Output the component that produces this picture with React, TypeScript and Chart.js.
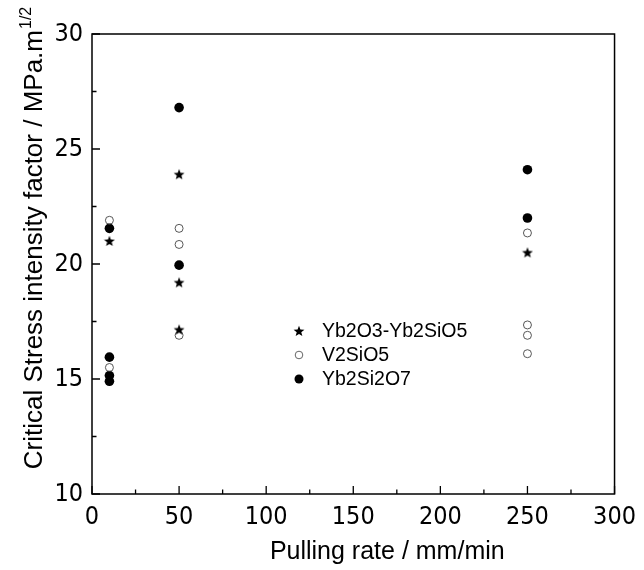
import React, { useEffect, useRef } from 'react';
import { Chart, registerables } from 'chart.js';

Chart.register(...registerables);

// Pulling rate (mm/min) and critical stress intensity factor (MPa.m^1/2)
const starRates = [10, 50, 50, 50, 250];
const starValues = [21.0, 23.9, 19.2, 17.15, 20.5];
const openRates = [10, 10, 50, 50, 50, 250, 250, 250, 250];
const openValues = [21.9, 15.5, 21.55, 20.85, 16.9, 21.35, 17.35, 16.9, 16.1];
const filledRates = [10, 10, 10, 10, 50, 50, 250, 250];
const filledValues = [21.55, 15.95, 15.15, 14.9, 26.8, 19.95, 24.1, 22.0];
const seriesLabels = ['Yb2O3-Yb2SiO5', 'V2SiO5', 'Yb2Si2O7'];
const xMajorTicks = [0, 50, 100, 150, 200, 250, 300];
const xMinorTicks = [25, 75, 125, 175, 225, 275];
const yMajorTicks = [10, 15, 20, 25, 30];
const yMinorTicks = [12.5, 17.5, 22.5, 27.5];
const xTitle = 'Pulling rate / mm/min';
const yTitleMain = 'Critical Stress intensity factor / MPa.m';
const yTitleSup = '1/2';

const FONT = "'Liberation Sans', Arial, Helvetica, sans-serif";
const NARROW = "'Liberation Sans Narrow', 'Arial Narrow', 'DejaVu Sans Condensed', 'Liberation Sans', Arial, sans-serif";

function makeStar(size: number): HTMLCanvasElement {
  const c = document.createElement('canvas');
  c.width = size;
  c.height = size;
  const g = c.getContext('2d')!;
  const cx = size / 2;
  const cy = size / 2 + 0.5;
  const ro = size / 2 - 0.3;
  const ri = ro * 0.42;
  g.beginPath();
  for (let i = 0; i < 10; i++) {
    const r = i % 2 === 0 ? ro : ri;
    const a = -Math.PI / 2 + (i * Math.PI) / 5;
    const px = cx + r * Math.cos(a);
    const py = cy + r * Math.sin(a);
    if (i === 0) g.moveTo(px, py);
    else g.lineTo(px, py);
  }
  g.closePath();
  g.fillStyle = '#000';
  g.fill();
  return c;
}

const toPoints = (xs: number[], ys: number[]) => xs.map((x, i) => ({ x, y: ys[i] }));

export default function App() {
  const ref = useRef<HTMLCanvasElement | null>(null);

  useEffect(() => {
    if (!ref.current) return;
    const star = makeStar(12);

    const framePlugin = {
      id: 'frame',
      afterDatasetsDraw(chart: any) {
        const { ctx, chartArea } = chart;
        const xs = chart.scales.x;
        const ys = chart.scales.y;
        const { left, right, top, bottom } = chartArea;
        ctx.save();
        ctx.strokeStyle = '#000';
        ctx.lineWidth = 1.5;
        ctx.strokeRect(left, top, right - left, bottom - top);
        ctx.lineWidth = 1.3;
        ctx.beginPath();
        xMajorTicks.forEach((v) => {
          const p = xs.getPixelForValue(v);
          ctx.moveTo(p, bottom);
          ctx.lineTo(p, bottom - 8);
        });
        xMinorTicks.forEach((v) => {
          const p = xs.getPixelForValue(v);
          ctx.moveTo(p, bottom);
          ctx.lineTo(p, bottom - 4.5);
        });
        yMajorTicks.forEach((v) => {
          const p = ys.getPixelForValue(v);
          ctx.moveTo(left, p);
          ctx.lineTo(left + 8, p);
        });
        yMinorTicks.forEach((v) => {
          const p = ys.getPixelForValue(v);
          ctx.moveTo(left, p);
          ctx.lineTo(left + 4.5, p);
        });
        ctx.stroke();

        // legend
        const lx = 299;
        const tx = 322;
        const rows = [331, 355, 379];
        ctx.font = `19.5px ${FONT}`;
        ctx.fillStyle = '#000';
        ctx.textBaseline = 'middle';
        ctx.textAlign = 'left';
        chart.data.datasets.forEach((ds: any, i: number) => {
          const y = rows[i];
          if (i === 0) {
            ctx.drawImage(star, lx - star.width / 2, y - star.height / 2);
          } else {
            ctx.beginPath();
            ctx.arc(lx, y, i === 1 ? 3.8 : 4.5, 0, Math.PI * 2);
            if (i === 2) {
              ctx.fillStyle = '#000';
              ctx.fill();
            } else {
              ctx.strokeStyle = '#555';
              ctx.lineWidth = 0.9;
              ctx.stroke();
            }
          }
          ctx.fillStyle = '#000';
          ctx.fillText(ds.label, tx, y + 1);
        });

        // x title
        ctx.font = `25px ${FONT}`;
        ctx.textAlign = 'center';
        ctx.textBaseline = 'alphabetic';
        ctx.fillText(xTitle, (left + right) / 2 + 34, 559);

        // y title (rotated, with superscript)
        ctx.translate(42, 238);
        ctx.rotate(-Math.PI / 2);
        ctx.textAlign = 'left';
        const mainFont = `26px ${FONT}`;
        const supFont = `16px ${FONT}`;
        ctx.font = mainFont;
        const w1 = ctx.measureText(yTitleMain).width;
        ctx.font = supFont;
        const w2 = ctx.measureText(yTitleSup).width;
        const total = w1 + 1 + w2;
        const start = -total / 2;
        ctx.font = mainFont;
        ctx.fillText(yTitleMain, start, 0);
        ctx.font = supFont;
        ctx.fillText(yTitleSup, start + w1 + 1, -11);
        ctx.restore();
      },
    };

    const chart = new Chart(ref.current, {
      type: 'scatter',
      data: {
        datasets: [
          {
            label: seriesLabels[0],
            data: toPoints(starRates, starValues),
            pointStyle: star as any,
            pointRadius: 6,
            backgroundColor: '#000',
            borderColor: '#000',
          },
          {
            label: seriesLabels[1],
            data: toPoints(openRates, openValues),
            pointStyle: 'circle',
            pointRadius: 4,
            backgroundColor: 'rgba(255,255,255,0)',
            borderColor: '#444',
            borderWidth: 0.9,
          },
          {
            label: seriesLabels[2],
            data: toPoints(filledRates, filledValues),
            pointStyle: 'circle',
            pointRadius: 4.8,
            backgroundColor: '#000',
            borderColor: '#000',
            borderWidth: 0,
          },
        ],
      },
      options: {
        responsive: false,
        animation: false,
        events: [],
        layout: { padding: { top: 34, right: 21, left: 0, bottom: 0 } },
        plugins: {
          legend: { display: false },
          tooltip: { enabled: false },
        },
        scales: {
          x: {
            type: 'linear',
            min: 0,
            max: 300,
            afterFit: (s: any) => {
              s.height = 76;
            },
            grid: { display: false, drawTicks: false },
            border: { display: false },
            ticks: {
              stepSize: 50,
              padding: 8,
              color: '#000',
              font: { family: NARROW, size: 25 },
            },
            title: { display: false },
          },
          y: {
            type: 'linear',
            min: 10,
            max: 30,
            afterFit: (s: any) => {
              s.width = 92;
            },
            grid: { display: false, drawTicks: false },
            border: { display: false },
            ticks: {
              stepSize: 5,
              padding: 9,
              color: '#000',
              font: { family: NARROW, size: 25 },
            },
            title: { display: false },
          },
        },
      },
      plugins: [framePlugin],
    });
    return () => chart.destroy();
  }, []);

  return (
    <div style={{ position: 'fixed', left: 0, top: 0, width: 644, height: 570, background: '#fff' }}>
      <canvas ref={ref} width={644} height={570} style={{ width: 644, height: 570 }} />
    </div>
  );
}
